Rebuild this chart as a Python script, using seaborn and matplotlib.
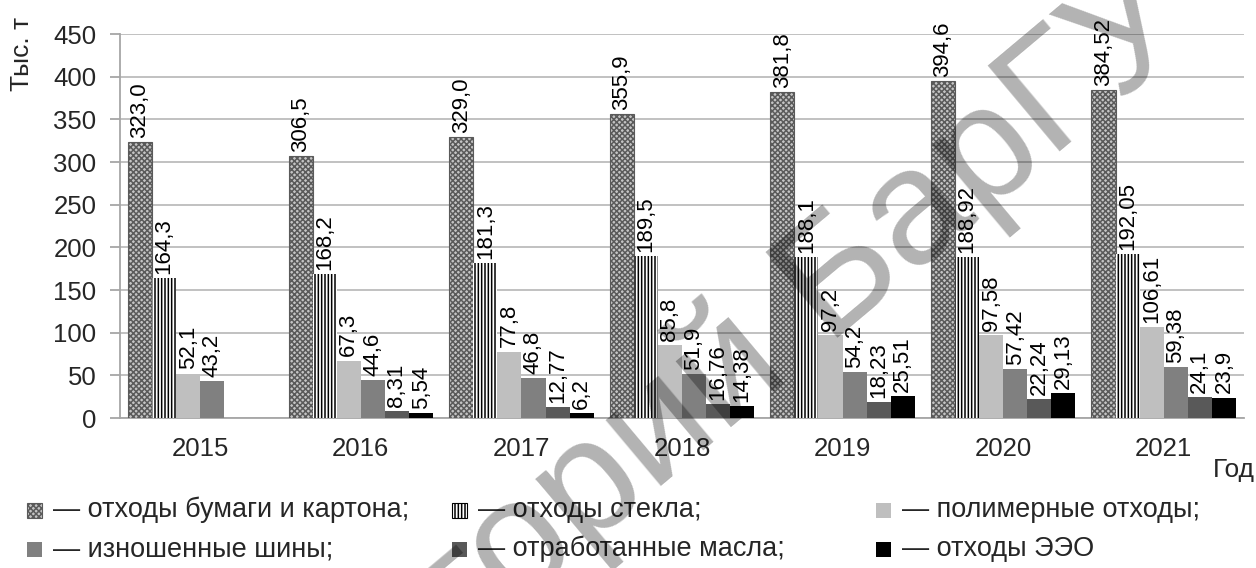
import numpy as np
import pandas as pd
import matplotlib
matplotlib.use('Agg')
import matplotlib.pyplot as plt
from matplotlib.patches import Rectangle
import seaborn as sns

# data (labels as printed, decimal comma)
years = ['2015', '2016', '2017', '2018', '2019', '2020', '2021']
paper = ['323,0', '306,5', '329,0', '355,9', '381,8', '394,6', '384,52']
glass = ['164,3', '168,2', '181,3', '189,5', '188,1', '188,92', '192,05']
polymer = ['52,1', '67,3', '77,8', '85,8', '97,2', '97,58', '106,61']
tires = ['43,2', '44,6', '46,8', '51,9', '54,2', '57,42', '59,38']
oils = ['', '8,31', '12,77', '16,76', '18,23', '22,24', '24,1']
eee = ['', '5,54', '6,2', '14,38', '25,51', '29,13', '23,9']

series_names = ['отходы бумаги и картона;', 'отходы стекла;', 'полимерные отходы;',
                'изношенные шины;', 'отработанные масла;', 'отходы ЭЭО']
series_labels = [paper, glass, polymer, tires, oils, eee]

# styles
face = ['#c4c4c4', 'white', '#bfbfbf', '#808080', '#595959', '#000000']
edge = ['#5a5a5a', '#000000', '#bfbfbf', '#808080', '#595959', '#000000']
hatch = ['xxxxxx', '|||||', None, None, None, None]
lw = [0.8, 0.0, 0, 0, 0, 0]

rows = []
for name, labs in zip(series_names, series_labels):
    for yr, s in zip(years, labs):
        val = float(s.replace(',', '.')) if s else np.nan
        rows.append({'year': yr, 'series': name, 'value': val, 'label': s})
df = pd.DataFrame(rows)

sns.set_theme(style='white')
plt.rcParams['font.family'] = ['Liberation Sans', 'DejaVu Sans']
plt.rcParams['hatch.linewidth'] = 1.1

W, H = 1256, 568
fig = plt.figure(figsize=(W / 100, H / 100), dpi=100)
ax = fig.add_axes([120 / W, 1 - 418 / H, (1244 - 120) / W, (418 - 34) / H])

sns.barplot(data=df.dropna(subset=['value']), x='year', y='value', hue='series',
            hue_order=series_names, order=years, palette=face, saturation=1,
            width=0.9, errorbar=None, legend=False, ax=ax, zorder=3)

for i, cont in enumerate(ax.containers):
    labs = series_labels[i]
    for bar in cont:
        h = bar.get_height()
        if np.isnan(h):
            continue
        bar.set_facecolor(face[i])
        bar.set_edgecolor(edge[i])
        bar.set_linewidth(lw[i])
        if hatch[i]:
            bar.set_hatch(hatch[i])
        xc = bar.get_x() + bar.get_width() / 2
        k = int(round(xc))
        ax.annotate(labs[k], (xc, h), xytext=(0, 3), textcoords='offset points',
                    rotation=90, ha='center', va='bottom', fontsize=16, color='black',
                    zorder=4)

ax.set_xlim(-0.5, 6.5)
ax.set_ylim(0, 450)
ax.set_yticks(np.arange(0, 451, 50))
ax.set_xlabel('')
ax.set_ylabel('')
ax.yaxis.grid(True, color='#b0b0b0', linewidth=1.1, zorder=0)
ax.set_axisbelow(True)
for side in ['top', 'right']:
    ax.spines[side].set_visible(False)
for side in ['left', 'bottom']:
    ax.spines[side].set_color('#a6a6a6')
    ax.spines[side].set_linewidth(1.3)
ax.set_xticks(np.arange(-0.5, 7, 1), minor=True)
ax.tick_params(axis='x', which='major', length=0, pad=14, labelsize=18.5)
ax.tick_params(axis='x', which='minor', length=7, width=1.3, color='#a6a6a6', direction='out')
ax.tick_params(axis='y', which='major', length=7, width=1.3, color='#a6a6a6',
               direction='out', pad=10, labelsize=18.5, left=True)

fig.text(22 / W, 1 - 54 / H, 'Тыс. т', rotation=90, ha='center', va='center', fontsize=19)
fig.text(1234 / W, 1 - 470 / H, 'Год', ha='center', va='center', fontsize=19)

# legend: small squares with dash labels
col_x = [27, 452, 876]
row_y = [510, 549]
sq = 15
for j, name in enumerate(series_names):
    cx = col_x[j % 3]
    cy = row_y[j // 3]
    fig.add_artist(Rectangle((cx / W, 1 - (cy + sq / 2) / H), sq / W, sq / H,
                             transform=fig.transFigure, facecolor=face[j],
                             edgecolor=edge[j], linewidth=0.8 if hatch[j] else 0,
                             hatch=hatch[j]))
    fig.text((cx + 26) / W, 1 - cy / H, '— ' + name, ha='left', va='center', fontsize=19.5)

# repository watermark
fig.text(1170 / W, 1 - 2 / H, 'Репозиторий БарГУ', rotation=40, rotation_mode='anchor',
         ha='right', va='center', fontsize=118, color='black', alpha=0.3, zorder=10)

fig.savefig('out.png', dpi=100)
plt.close(fig)
